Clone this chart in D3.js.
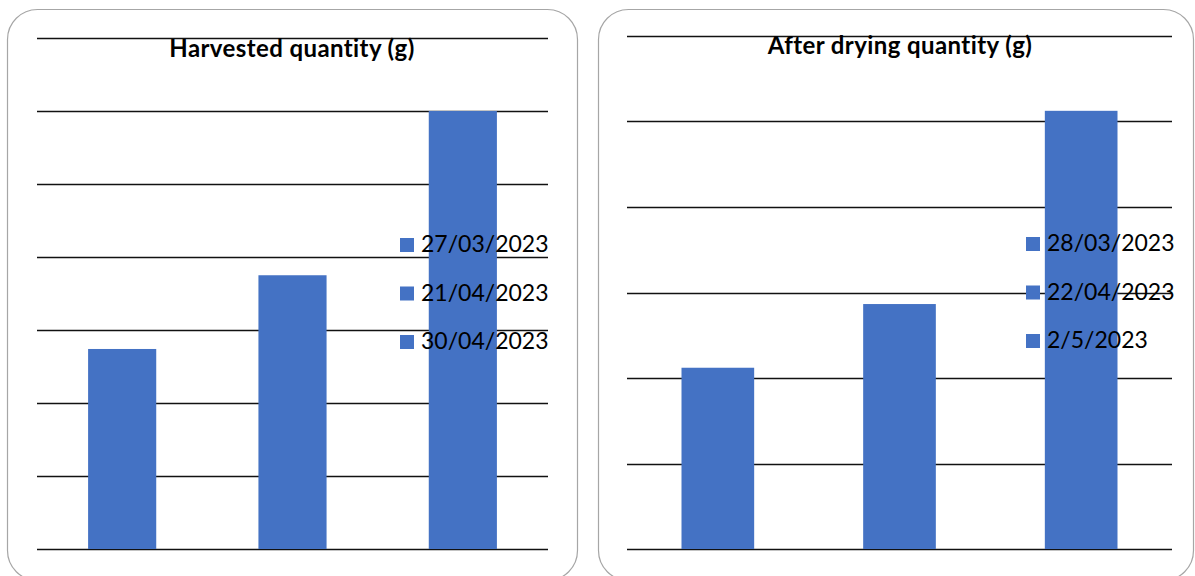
<!DOCTYPE html>
<html>
<head>
<meta charset="utf-8">
<script src="https://cdn.jsdelivr.net/npm/d3@7"></script>
<style>
  html, body { margin: 0; padding: 0; background: #fff; }
  svg { display: block; }
</style>
</head>
<body>
<svg id="chart" width="1195" height="576"></svg>
<script>
// Harvest data (grams) per harvest date
const harvestDates = ["27/03/2023", "21/04/2023", "30/04/2023"];
const harvestValues = [274, 375, 600];
const harvestTicks = [0, 100, 200, 300, 400, 500, 600, 700];

// Dried weight (grams) per drying date
const dryingDates = ["28/03/2023", "22/04/2023", "2/5/2023"];
const dryingValues = [42.4, 57.3, 102.5];
const dryingTicks = [0, 20, 40, 60, 80, 100, 120];

const barColor = "#4472C4";
const svg = d3.select("#chart");

function drawPanel(cfg) {
  const g = svg.append("g");

  // rounded chart-area frame
  g.append("rect")
    .attr("x", cfg.frame.x + 0.5).attr("y", cfg.frame.y + 0.5)
    .attr("width", cfg.frame.w).attr("height", cfg.frame.h)
    .attr("rx", 30).attr("ry", 30)
    .attr("fill", "#fff").attr("stroke", "#a6a6a6").attr("stroke-width", 1.2);

  const x = d3.scaleBand()
    .domain(cfg.categories)
    .range([cfg.plot.x0, cfg.plot.x1])
    .paddingInner(0.6).paddingOuter(0.3);

  const y = d3.scaleLinear()
    .domain([cfg.ticks[0], cfg.ticks[cfg.ticks.length - 1]])
    .range([cfg.plot.y1, cfg.plot.y0]);

  // horizontal gridlines
  const grid = d3.axisLeft(y)
    .tickValues(cfg.ticks)
    .tickSize(-(cfg.plot.x1 - cfg.plot.x0))
    .tickFormat("");
  const gg = g.append("g")
    .attr("transform", `translate(${cfg.plot.x0},0)`)
    .call(grid);
  gg.select(".domain").remove();
  gg.selectAll(".tick")
    .attr("transform", d => `translate(0,${Math.round(y(d)) + 0.5})`);
  gg.selectAll(".tick line")
    .attr("stroke", "#111").attr("stroke-width", 1.4);

  // bars
  g.append("g").selectAll("rect")
    .data(cfg.values)
    .join("rect")
    .attr("x", (d, i) => x(cfg.categories[i]))
    .attr("width", x.bandwidth())
    .attr("y", d => y(d))
    .attr("height", d => y(0) - y(d))
    .attr("fill", barColor);

  // title
  g.append("text")
    .attr("x", cfg.titleX).attr("y", cfg.titleY)
    .attr("text-anchor", "middle")
    .attr("font-family", "Lato, 'Open Sans', sans-serif")
    .attr("font-weight", "bold")
    .attr("font-size", 24)
    .attr("letter-spacing", 0.4)
    .attr("fill", "#000")
    .text(cfg.title);

  // legend, one entry per date
  const lg = g.append("g").selectAll("g")
    .data(cfg.categories)
    .join("g")
    .attr("transform", (d, i) => `translate(${cfg.legend.x},${cfg.legend.y + i * 48.5})`);
  lg.append("rect")
    .attr("x", 0).attr("y", -14)
    .attr("width", 14).attr("height", 14)
    .attr("fill", barColor);
  lg.append("text")
    .attr("x", 21).attr("y", 0)
    .attr("font-family", "Lato, 'Open Sans', sans-serif")
    .attr("font-size", 23)
    .attr("fill", "#000")
    .text(d => d);
}

drawPanel({
  frame: { x: 7, y: 9, w: 570, h: 571 },
  plot: { x0: 37, x1: 548, y0: 38, y1: 549 },
  categories: harvestDates,
  values: harvestValues,
  ticks: harvestTicks,
  title: "Harvested quantity (g)",
  titleX: 292, titleY: 57,
  legend: { x: 400, y: 252 }
});

drawPanel({
  frame: { x: 598, y: 9, w: 595, h: 571 },
  plot: { x0: 627, x1: 1172, y0: 36, y1: 549 },
  categories: dryingDates,
  values: dryingValues,
  ticks: dryingTicks,
  title: "After drying quantity (g)",
  titleX: 900, titleY: 54,
  legend: { x: 1026, y: 251 }
});
</script>
</body>
</html>
